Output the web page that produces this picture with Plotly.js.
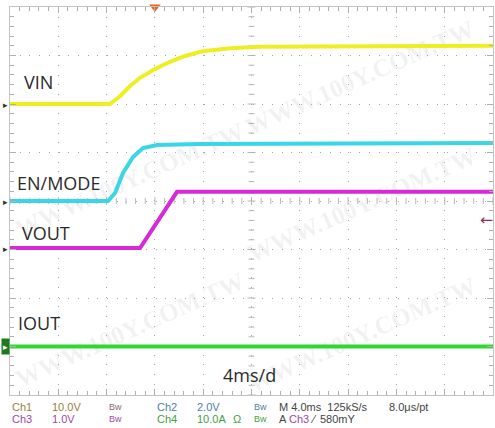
<!DOCTYPE html>
<html>
<head>
<meta charset="utf-8">
<script src="https://cdn.plot.ly/plotly-3.0.1.min.js"></script>
<style>
  html, body { margin: 0; padding: 0; background: #fff; }
  #wrap { position: relative; width: 495px; height: 428px; overflow: hidden; }
  #wm { position: absolute; left: 0; top: 0; width: 495px; height: 428px; z-index: 0; }
  #wm span { position: absolute; font-family: 'Liberation Serif', serif; font-weight: bold; font-size: 25px;
             color: rgba(150,150,150,0.12); white-space: nowrap; transform: translate(-50%, -50%) rotate(-24deg); }
  #chart { position: absolute; left: 0; top: 0; width: 495px; height: 428px; z-index: 1; }
</style>
</head>
<body>
<div id="wrap">
  <div id="wm"></div>
  <div id="chart"></div>
</div>
<script>
// Time axis in ms (4 ms/div, 10 divisions); vertical values in screen divisions (-4..4)
const vinT  = [0, 8.28, 9.11, 9.94, 10.77, 12.0, 13.25, 14.49, 15.98, 18.22, 20.7, 40];
const vinY  = [2.0, 2.0, 2.16, 2.37, 2.54, 2.72, 2.87, 2.99, 3.09, 3.15, 3.18, 3.2];

const enT   = [0, 8.12, 8.70, 9.36, 10.19, 11.01, 12.17, 15.73, 40];
const enY   = [0, 0, 0.165, 0.577, 0.907, 1.093, 1.155, 1.175, 1.196];

const voutT = [0, 10.77, 13.83, 40];
const voutY = [-0.97, -0.97, 0.19, 0.19];

const ioutT = [0, 40];
const ioutY = [-3.0, -3.0];

const traceNames  = ['VIN', 'EN/MODE', 'VOUT', 'IOUT'];
const traceColors = ['#eeee22', '#3ad6e6', '#d62ad6', '#2ed82e'];
const groundLevels = [2.0, 0, -0.97, -3.0];   // channel reference markers (div)
const triggerTime = 12.0;                      // ms
const triggerLevelDiv = 0.58;                  // 580 mV at 1 V/div on Ch3
const timeLabel = '4ms/d';
const watermarkText = 'WWW.100Y.COM.TW';

const info1 = [
  {t: 'Ch1', c: '#9c7c3c', x: 10}, {t: '10.0V', c: '#9c7c3c', x: 50}, {t: 'Bw', c: '#8a6a70', x: 107, s: 9},
  {t: 'Ch2', c: '#4a82a4', x: 155}, {t: '2.0V', c: '#4a82a4', x: 195}, {t: 'Bw', c: '#4a82a4', x: 252, s: 9},
  {t: 'M 4.0ms  125kS/s', c: '#444', x: 277}, {t: '8.0μs/pt', c: '#444', x: 387}
];
const info2 = [
  {t: 'Ch3', c: '#a048a0', x: 10}, {t: '1.0V', c: '#a048a0', x: 50}, {t: 'Bw', c: '#a048a0', x: 107, s: 9},
  {t: 'Ch4', c: '#44a044', x: 155}, {t: '10.0A', c: '#44a044', x: 195}, {t: 'Ω', c: '#44a044', x: 231}, {t: 'Bw', c: '#44a044', x: 252, s: 9},
  {t: 'A', c: '#444', x: 277}, {t: 'Ch3', c: '#a048a0', x: 287}, {t: '⁄', c: '#444', x: 308}, {t: '580mY', c: '#444', x: 318}
];

// watermark (background, behind the traces)
const wmPos = [[360, 78], [130, 180], [362, 205], [130, 330], [362, 335]];
const wmDiv = document.getElementById('wm');
wmPos.forEach(p => {
  const s = document.createElement('span');
  s.textContent = watermarkText;
  s.style.left = p[0] + 'px'; s.style.top = p[1] + 'px';
  wmDiv.appendChild(s);
});

const W = 495, H = 428;
const M = {l: 10, r: 2, t: 7, b: 33};
const plotW = W - M.l - M.r, plotH = H - M.t - M.b;
const xRange = [0, 40], yRange = [-4, 4];

const series = [[vinT, vinY], [enT, enY], [voutT, voutY], [ioutT, ioutY]];
const data = series.map((s, i) => ({
  x: s[0], y: s[1], type: 'scatter', mode: 'lines', name: traceNames[i],
  line: {color: traceColors[i], width: 4}, hoverinfo: 'skip'
}));
// trigger position marker at the top edge
data.push({x: [triggerTime], y: [yRange[1]], type: 'scatter', mode: 'markers', cliponaxis: false,
  marker: {symbol: 'triangle-down', size: 10, color: '#e8601c', opacity: 1, line: {width: 0}},
  hoverinfo: 'skip', name: 'trigger'});

// center rulers (scope graticule)
const shapes = [];
const pxX = (xRange[1] - xRange[0]) / plotW;
const pxY = (yRange[1] - yRange[0]) / plotH;
for (let k = 0; k <= 50; k++) {
  const t = xRange[0] + k * 0.8;
  const len = (k % 5 === 0) ? 4 : 3;
  shapes.push({type: 'line', xref: 'x', yref: 'y', x0: t, x1: t, y0: -len * pxY, y1: len * pxY,
    line: {color: '#b8b8b8', width: 1}, layer: 'below'});
}
for (let k = 0; k <= 40; k++) {
  const v = yRange[0] + k * 0.2;
  const len = (k % 5 === 0) ? 4 : 3;
  shapes.push({type: 'line', xref: 'x', yref: 'y', x0: 20 - len * pxX, x1: 20 + len * pxX, y0: v, y1: v,
    line: {color: '#b8b8b8', width: 1}, layer: 'below'});
}

const labelFont = {family: 'Open Sans, sans-serif', size: 18, color: '#2a2a2a'};
const annotations = [
  {x: 0.99, y: 2.45, text: 'VIN'},
  {x: 0.41, y: 0.37, text: 'EN/MODE'},
  {x: 0.82, y: -0.66, text: 'VOUT'},
  {x: 0.49, y: -2.52, text: 'IOUT'},
  {x: 17.5, y: -3.59, text: timeLabel}
].map(a => Object.assign({xref: 'x', yref: 'y', xanchor: 'left', yanchor: 'middle', showarrow: false, font: labelFont}, a));

// channel ground markers at left edge
groundLevels.forEach((g, i) => {
  if (i === 3) {
    annotations.push({xref: 'paper', yref: 'y', x: 0, y: g, xanchor: 'right', yanchor: 'middle',
      text: '▸', showarrow: false, bgcolor: '#1e7a1e', font: {size: 9, color: '#fff'}, borderpad: 1});
  } else {
    annotations.push({xref: 'paper', yref: 'y', x: 0, y: g, xanchor: 'right', yanchor: 'middle',
      text: '▸', showarrow: false, font: {size: 9, color: '#333'}});
  }
});
// trigger level marker at right edge
annotations.push({xref: 'paper', yref: 'y', x: 1, y: groundLevels[2] + triggerLevelDiv, xanchor: 'right', yanchor: 'middle',
  xshift: 2, text: '←', showarrow: false, font: {family: 'DejaVu Sans', size: 15, color: '#8a2a6a'}});

// status lines
const row = (items, yc) => items.forEach(it => annotations.push({
  xref: 'paper', yref: 'paper', x: (it.x - M.l) / plotW, y: (H - M.b - yc) / plotH,
  xanchor: 'left', yanchor: 'middle', showarrow: false, text: it.t,
  font: {family: 'Liberation Sans, Arial, sans-serif', size: it.s || 11, color: it.c}
}));
row(info1, 407);
row(info2, 419);

const axisCommon = {
  showticklabels: false, showline: true, linecolor: '#c4c4c4', linewidth: 1, mirror: 'ticks',
  ticks: 'inside', ticklen: 6, tickcolor: '#b0b0b0', zeroline: false,
  showgrid: true, gridcolor: '#a8a8a8', gridwidth: 1, fixedrange: true
};

const layout = {
  width: W, height: H, margin: M,
  paper_bgcolor: 'rgba(0,0,0,0)', plot_bgcolor: 'rgba(0,0,0,0)', showlegend: false,
  xaxis: Object.assign({}, axisCommon, {range: xRange, dtick: 4, tick0: 0, griddash: '1px,8.66px',
    minor: {dtick: 0.8, ticks: 'inside', ticklen: 4, tickcolor: '#b0b0b0', showgrid: false}}),
  yaxis: Object.assign({}, axisCommon, {range: yRange, dtick: 1, tick0: 0, griddash: '1px,8.7px',
    minor: {dtick: 0.2, ticks: 'inside', ticklen: 4, tickcolor: '#b0b0b0', showgrid: false}}),
  shapes: shapes, annotations: annotations
};

Plotly.newPlot('chart', data, layout, {displayModeBar: false, staticPlot: true});
</script>
</body>
</html>
